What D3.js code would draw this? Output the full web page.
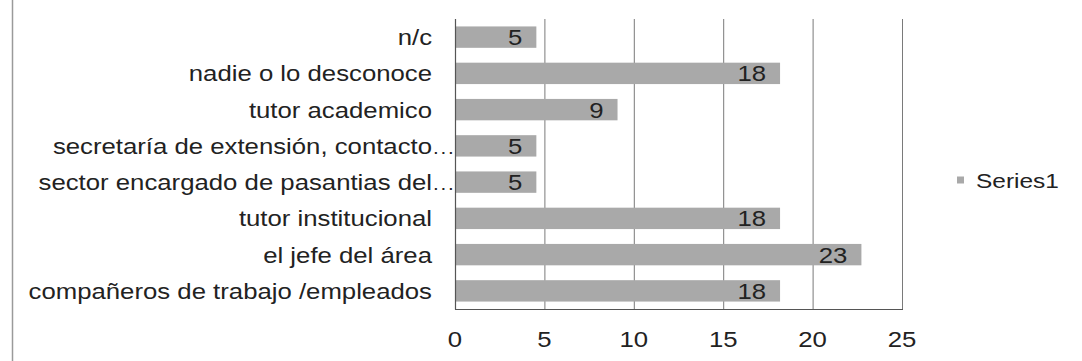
<!DOCTYPE html>
<html>
<head>
<meta charset="utf-8">
<script src="https://cdn.jsdelivr.net/npm/d3@7"></script>
<style>
  html, body { margin: 0; padding: 0; background: #fff; }
  svg { display: block; }
  text { font-family: "Liberation Sans", Arial, sans-serif; fill: #222; }
</style>
</head>
<body>
<svg id="chart" width="1082" height="361"></svg>
<script>
// Data (top to bottom as displayed)
const categories = [
  "n/c",
  "nadie o lo desconoce",
  "tutor academico",
  "secretaría de extensión, contacto…",
  "sector encargado de pasantias del…",
  "tutor institucional",
  "el jefe del área",
  "compañeros de trabajo /empleados"
];
const values = [4.55, 18.18, 9.09, 4.55, 4.55, 18.18, 22.73, 18.18];
const xTicks = [0, 5, 10, 15, 20, 25];
const seriesName = "Series1";

const W = 1082, H = 361;
const margin = { left: 455, right: 180, top: 19, bottom: 52 };
const FS = 22, SX = 1.17;          // font size and horizontal glyph stretch
const barColor = "#a9a9a9";
const gridColor = "#7a7a7a";

const svg = d3.select("#chart");

// outer left border line
svg.append("line").attr("x1", 12.5).attr("x2", 12.5).attr("y1", 0).attr("y2", H)
  .attr("stroke", "#9a9a9a").attr("stroke-width", 1.5);

const x = d3.scaleLinear().domain([0, 25]).range([margin.left, 902]);
const y = d3.scaleBand().domain(categories).range([margin.top, 309])
  .paddingInner(0.41).paddingOuter(0.205);

function stretchedText(sel, tx, ty) {
  return sel.attr("transform", (d, i) => `translate(${tx(d, i)},${ty(d, i)}) scale(${SX},1)`)
    .attr("font-size", FS);
}

// gridlines
svg.append("g").selectAll("line").data(xTicks).join("line")
  .attr("x1", d => x(d) + 0.5).attr("x2", d => x(d) + 0.5)
  .attr("y1", margin.top).attr("y2", 309)
  .attr("stroke", gridColor).attr("stroke-width", 1);

// bars
svg.append("g").selectAll("rect").data(values).join("rect")
  .attr("x", x(0))
  .attr("y", (d, i) => y(categories[i]))
  .attr("width", d => x(d) - x(0))
  .attr("height", y.bandwidth())
  .attr("fill", barColor);

// axes lines
svg.append("line").attr("x1", x(0) + 0.5).attr("x2", x(0) + 0.5)
  .attr("y1", margin.top).attr("y2", 309.5).attr("stroke", "#555").attr("stroke-width", 1.2);
svg.append("line").attr("x1", x(0)).attr("x2", x(25) + 1)
  .attr("y1", 309.5).attr("y2", 309.5).attr("stroke", "#555").attr("stroke-width", 1.2);

// x tick labels
stretchedText(
  svg.append("g").selectAll("text").data(xTicks).join("text")
    .attr("text-anchor", "middle").text(d => d),
  d => x(d), () => 347);

// category labels (with overflowing ellipsis for truncated ones)
const catG = svg.append("g");
categories.forEach((c, i) => {
  const parts = c.split("…");
  const cy = y(c) + y.bandwidth() / 2 + FS * 0.36;
  catG.append("text")
    .attr("text-anchor", "end")
    .attr("transform", `translate(432,${cy}) scale(${SX},1)`)
    .attr("font-size", FS)
    .text(parts[0]);
  if (parts.length > 1) {
    catG.append("text")
      .attr("text-anchor", "start")
      .attr("transform", `translate(433,${cy}) scale(${SX},1)`)
      .attr("font-size", FS * 0.8)
      .attr("letter-spacing", 1.5)
      .text("...");
  }
});

// value labels (inside end)
const fmt = d3.format(".0f");
stretchedText(
  svg.append("g").selectAll("text").data(values).join("text")
    .attr("text-anchor", "end").text(d => fmt(d)),
  d => x(d) - 14,
  (d, i) => y(categories[i]) + y.bandwidth() / 2 + FS * 0.36);

// legend
const lg = svg.append("g");
lg.append("rect").attr("x", 957).attr("y", 176.5).attr("width", 7).attr("height", 7).attr("fill", barColor);
lg.append("text")
  .attr("transform", `translate(976,188) scale(${SX},1)`)
  .attr("font-size", FS * 0.95)
  .text(seriesName);
</script>
</body>
</html>
